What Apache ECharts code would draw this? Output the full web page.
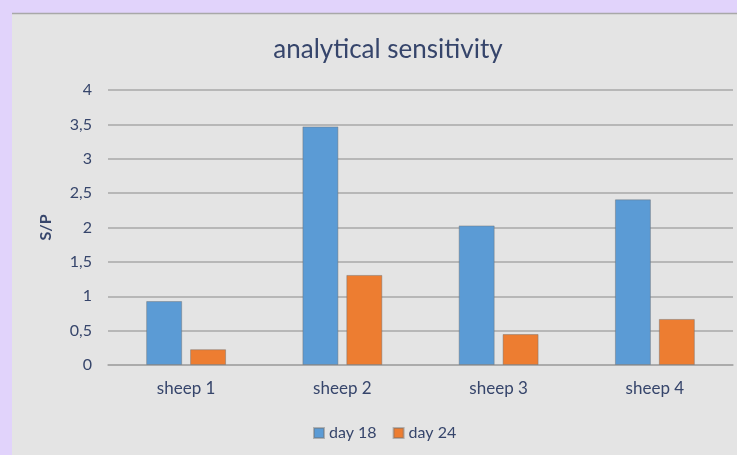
<!DOCTYPE html>
<html>
<head>
<meta charset="utf-8">
<script src="https://cdn.jsdelivr.net/npm/echarts@6/dist/echarts.min.js"></script>
<style>
html,body{margin:0;padding:0;background:#e1d3fb;}
#chart{width:737px;height:455px;}
</style>
</head>
<body>
<div id="chart"></div>
<script>
var categories = ['sheep 1', 'sheep 2', 'sheep 3', 'sheep 4'];
var day18 = [0.93, 3.47, 2.03, 2.41];
var day24 = [0.23, 1.31, 0.45, 0.67];
var seriesNames = ['day 18', 'day 24'];
var yTicks = [0, 0.5, 1, 1.5, 2, 2.5, 3, 3.5, 4];

var textColor = '#36456b';
var font = 'Lato, "Open Sans", sans-serif';
var chart = echarts.init(document.getElementById('chart'), null, {renderer: 'canvas'});
chart.setOption({
  backgroundColor: '#e1d3fb',
  textStyle: {fontFamily: font},
  graphic: [
    {type: 'rect', z: -10, shape: {x: 12, y: 13, width: 725, height: 442},
     style: {fill: '#e4e4e4', stroke: null}},
    {type: 'line', z: -9, shape: {x1: 12, y1: 13.5, x2: 737, y2: 13.5},
     style: {stroke: '#a8a8a8', lineWidth: 1.5}}
  ],
  title: {
    text: 'analytical sensitivity',
    left: 383, top: 32, textAlign: 'center',
    textStyle: {color: textColor, fontSize: 26, fontWeight: 'normal', fontFamily: font}
  },
  legend: {
    data: seriesNames,
    left: 313, top: 425, itemWidth: 10, itemHeight: 10, itemGap: 16,
    icon: 'rect',
    textStyle: {color: textColor, fontSize: 16, fontFamily: font},
    padding: [0, 0, 0, 0]
  },
  grid: {left: 108, right: 4, top: 90, bottom: 90, containLabel: false},
  xAxis: {
    type: 'category', data: categories,
    axisLine: {lineStyle: {color: '#a8a8a8', width: 1.5}},
    axisTick: {show: false},
    axisLabel: {color: textColor, fontSize: 17, margin: 15, fontFamily: font}
  },
  yAxis: {
    type: 'value', min: 0, max: 4, interval: 0.5,
    name: 'S/P', nameLocation: 'middle', nameGap: 54, nameRotate: 90,
    nameTextStyle: {color: textColor, fontSize: 16, fontWeight: 'bold', fontFamily: font},
    axisLine: {show: false}, axisTick: {show: false},
    axisLabel: {color: textColor, fontSize: 16, margin: 16, fontFamily: font,
      formatter: function (v) { return String(v).replace('.', ','); }},
    splitLine: {lineStyle: {color: '#a8a8a8', width: 1.5}}
  },
  series: [
    {name: seriesNames[0], type: 'bar', data: day18, barWidth: 36, barGap: '22%',
     itemStyle: {color: '#5b9bd5', borderColor: 'rgba(110,110,110,0.45)', borderWidth: 1}},
    {name: seriesNames[1], type: 'bar', data: day24, barWidth: 36,
     itemStyle: {color: '#ed7d31', borderColor: 'rgba(110,110,110,0.45)', borderWidth: 1}}
  ]
});
</script>
</body>
</html>
